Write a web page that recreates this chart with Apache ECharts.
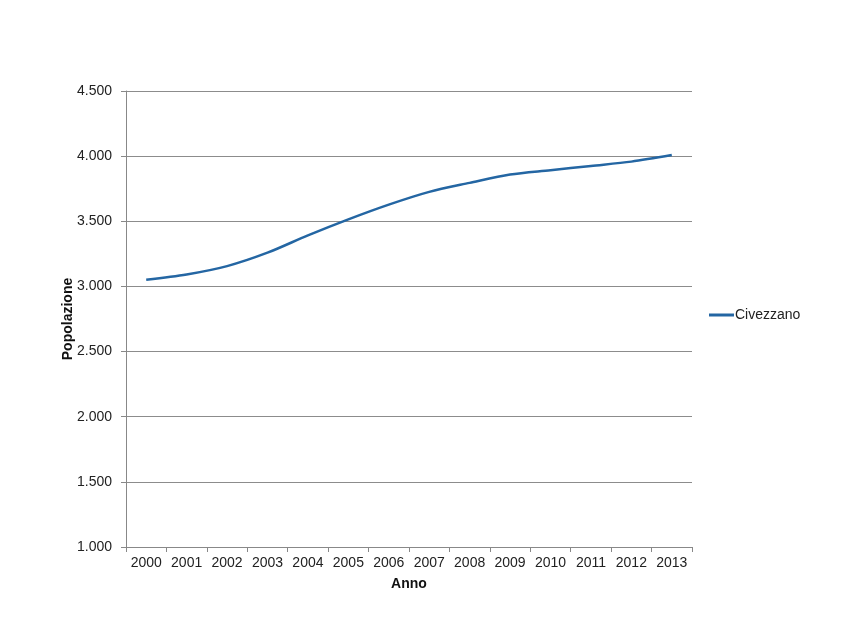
<!DOCTYPE html>
<html>
<head>
<meta charset="utf-8">
<script src="https://cdn.jsdelivr.net/npm/echarts@6/dist/echarts.min.js"></script>
<style>html,body{margin:0;padding:0;background:#fff;}#c{width:850px;height:638px;}</style>
</head>
<body>
<div id="c"></div>
<script>
const years = ['2000','2001','2002','2003','2004','2005','2006','2007','2008','2009','2010','2011','2012','2013'];
const civezzano = [3052, 3092, 3156, 3259, 3392, 3515, 3628, 3726, 3795, 3859, 3892, 3925, 3958, 4008];
const yTicks = { min: 1000, max: 4500, interval: 500 };
const seriesName = 'Civezzano';

const fmt = v => String(v).replace(/\B(?=(\d{3})+(?!\d))/g, '.');
const chart = echarts.init(document.getElementById('c'), null, { renderer: 'canvas' });
const font = '"Liberation Sans", Arial, sans-serif';
chart.setOption({
  animation: false,
  backgroundColor: '#fff',
  grid: { left: 126, right: 158, top: 91, bottom: 91, containLabel: false },
  legend: {
    data: [{ name: seriesName, icon: 'rect' }],
    orient: 'vertical',
    left: 704, top: 303,
    itemWidth: 25, itemHeight: 3, itemGap: 5,
    textStyle: { fontFamily: font, fontSize: 14, color: '#222', padding: [0, 0, 0, -4] }
  },
  xAxis: {
    type: 'category',
    data: years,
    boundaryGap: true,
    name: 'Anno',
    nameLocation: 'middle',
    nameGap: 30,
    nameMoveOverlap: false,
    nameTextStyle: { fontFamily: font, fontSize: 14, fontWeight: 'bold', color: '#111' },
    axisLine: { lineStyle: { color: '#888', width: 1 } },
    axisTick: { show: true, alignWithLabel: false, length: 5, lineStyle: { color: '#888' } },
    axisLabel: { fontFamily: font, fontSize: 14, color: '#222', margin: 9, interval: 0 },
    splitLine: { show: false }
  },
  yAxis: {
    type: 'value',
    min: yTicks.min, max: yTicks.max, interval: yTicks.interval,
    name: 'Popolazione',
    nameLocation: 'middle',
    nameGap: 51,
    nameMoveOverlap: false,
    nameRotate: 90,
    nameTextStyle: { fontFamily: font, fontSize: 14, fontWeight: 'bold', color: '#111' },
    axisLine: { show: true, lineStyle: { color: '#888', width: 1 } },
    axisTick: { show: true, length: 5, lineStyle: { color: '#888' } },
    axisLabel: { fontFamily: font, fontSize: 14, color: '#222', margin: 14, formatter: fmt },
    splitLine: { show: true, lineStyle: { color: '#8c8c8c', width: 1 } }
  },
  series: [{
    name: seriesName,
    type: 'line',
    data: civezzano,
    smooth: 0.3,
    showSymbol: false,
    symbol: 'none',
    lineStyle: { color: '#2466a3', width: 2.5 },
    itemStyle: { color: '#2466a3' }
  }]
});
</script>
</body>
</html>
